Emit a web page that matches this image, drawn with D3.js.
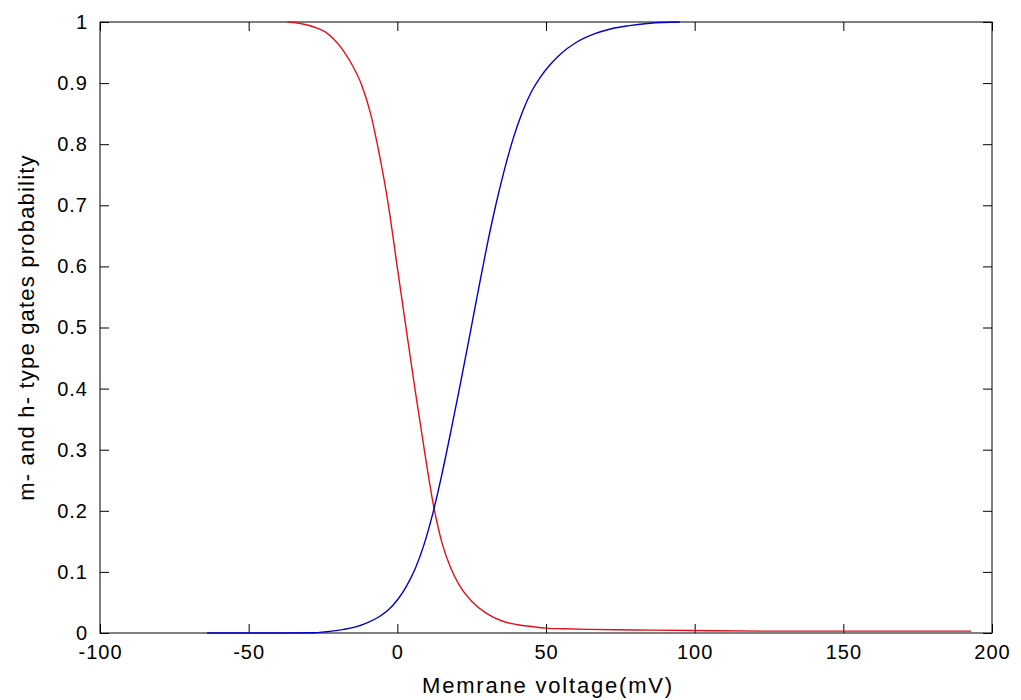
<!DOCTYPE html>
<html lang="en">
<head>
<meta charset="UTF-8">
<title>Gating variables</title>
<script src="https://d3js.org/d3.v7.min.js"></script>
<style>
  body { margin: 0; background: #fff; }
  text { font-family: "Liberation Sans", Arial, sans-serif; fill: #000; }
</style>
</head>
<body>
<div id="chart"></div>
<script>
// values
var hVolt = [-37, -33, -27, -24, -21, -18, -15, -12, -9, -6, -3, 0, 3, 6, 9, 12, 15, 18, 21, 25, 30, 35, 40, 46, 50, 56, 64, 80, 100, 130, 193];
var hProb = [1.0, 0.998, 0.99, 0.983, 0.970, 0.952, 0.928, 0.897, 0.85, 0.782, 0.70, 0.598, 0.497, 0.397, 0.302, 0.213, 0.148, 0.106, 0.077, 0.052, 0.032, 0.02, 0.014, 0.010, 0.008, 0.007, 0.006, 0.005, 0.004, 0.003, 0.003];

var mVolt = [-64, -40, -28, -22, -18, -14, -10, -6, -3, 0, 3, 6, 9, 12, 15, 18, 21, 24, 27, 30, 33, 36, 39, 42, 45, 48, 51, 55, 60, 66, 72, 78, 85, 95];
var mProb = [0, 0, 0.0005, 0.003, 0.006, 0.010, 0.017, 0.027, 0.038, 0.054, 0.076, 0.105, 0.145, 0.197, 0.26, 0.330, 0.403, 0.478, 0.555, 0.63, 0.698, 0.758, 0.81, 0.852, 0.885, 0.909, 0.928, 0.948, 0.966, 0.980, 0.989, 0.994, 0.998, 1.0];

var xTicks = [-100, -50, 0, 50, 100, 150, 200];
var yTicks = [0, 0.1, 0.2, 0.3, 0.4, 0.5, 0.6, 0.7, 0.8, 0.9, 1];

var margin = {top: 22, right: 29, bottom: 67, left: 100},
    width = 1021 - margin.left - margin.right,
    height = 700 - margin.top - margin.bottom;

var svg = d3.select("#chart")
  .append("svg")
    .attr("width", 1021)
    .attr("height", 700)
  .append("g")
    .attr("transform", "translate(" + margin.left + "," + margin.top + ")");

var x = d3.scaleLinear().domain([-100, 200]).range([0, width]);
var y = d3.scaleLinear().domain([0, 1]).range([height, 0]);

var yFmt = function(d) { return (d === 0 || d === 1) ? String(d) : d.toFixed(1); };

// bottom / left axes with labels, ticks pointing inward
var gx = svg.append("g")
  .attr("transform", "translate(0," + height + ")")
  .call(d3.axisBottom(x).tickValues(xTicks).tickFormat(String).tickSizeInner(-9).tickSizeOuter(0).tickPadding(12));
var gy = svg.append("g")
  .call(d3.axisLeft(y).tickValues(yTicks).tickFormat(yFmt).tickSizeInner(-9).tickSizeOuter(0).tickPadding(12));

// top / right axes, ticks only
var gt = svg.append("g")
  .call(d3.axisTop(x).tickValues(xTicks).tickFormat("").tickSizeInner(-9).tickSizeOuter(0));
var gr = svg.append("g")
  .attr("transform", "translate(" + width + ",0)")
  .call(d3.axisRight(y).tickValues(yTicks).tickFormat("").tickSizeInner(-9).tickSizeOuter(0));

[gx, gy, gt, gr].forEach(function(g) {
  g.select(".domain").remove();
  g.selectAll(".tick line").attr("stroke", "#000");
  g.selectAll("text").style("font-size", "20px").style("letter-spacing", "1px").attr("fill", "#000");
});

svg.append("rect")
  .attr("width", width)
  .attr("height", height)
  .attr("fill", "none")
  .attr("stroke", "#000")
  .attr("stroke-width", 1);

// curves
var line = d3.line()
  .curve(d3.curveMonotoneX)
  .x(function(d) { return x(d[0]); })
  .y(function(d) { return y(d[1]); });

svg.append("path")
  .datum(d3.zip(hVolt, hProb))
  .attr("fill", "none")
  .attr("stroke", "#e3101a")
  .attr("stroke-width", 1.4)
  .attr("d", line);

svg.append("path")
  .datum(d3.zip(mVolt, mProb))
  .attr("fill", "none")
  .attr("stroke", "#0000cc")
  .attr("stroke-width", 1.4)
  .attr("d", line);

// axis labels
svg.append("text")
  .attr("x", width / 2 + 2)
  .attr("y", height + 60)
  .attr("text-anchor", "middle")
  .style("font-size", "22px")
  .style("letter-spacing", "1.8px")
  .text("Memrane voltage(mV)");

svg.append("text")
  .attr("transform", "translate(-66," + (height / 2) + ") rotate(-90)")
  .attr("text-anchor", "middle")
  .style("font-size", "22px")
  .style("letter-spacing", "1.2px")
  .text("m- and h- type gates probability");
</script>
</body>
</html>
